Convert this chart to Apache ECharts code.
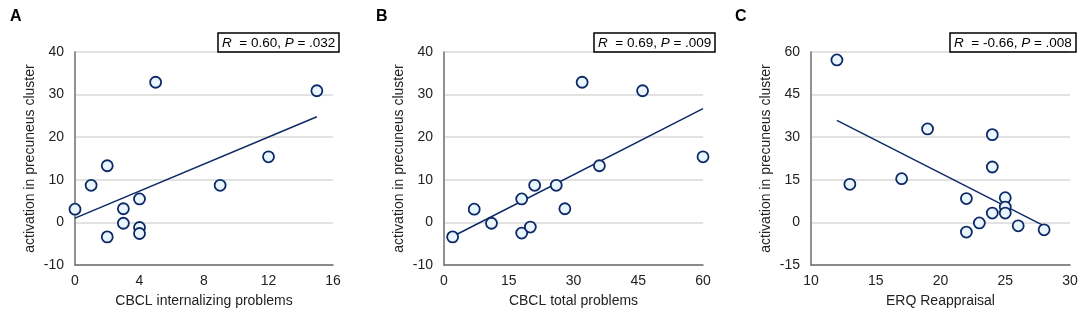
<!DOCTYPE html>
<html>
<head>
<meta charset="utf-8">
<script src="https://cdn.jsdelivr.net/npm/echarts@6/dist/echarts.min.js"></script>
<style>
  html, body { margin: 0; padding: 0; background: #fff; }
  #chart { width: 1084px; height: 313px; }
</style>
</head>
<body>
<div id="chart"></div>
<script>
// panel A: CBCL internalizing problems
const internalX = [0, 1, 2, 2, 3, 3, 4, 4, 4, 5, 9, 12, 15];
const internalY = [3.1, 8.7, 13.3, -3.4, 3.2, -0.2, 5.5, -1.2, -2.6, 32.9, 8.7, 15.4, 30.9];
const internalFitX = [0, 15];
const internalFitY = [1.0, 24.8];

// panel B: CBCL total problems
const totalX = [2, 7, 11, 18, 18, 20, 21, 26, 28, 32, 36, 46, 60];
const totalY = [-3.4, 3.1, -0.2, 5.5, -2.5, -1.1, 8.7, 8.7, 3.2, 32.9, 13.3, 30.9, 15.4];
const totalFitX = [2, 60];
const totalFitY = [-3.3, 26.7];

// panel C: ERQ Reappraisal
const erqX = [12, 13, 17, 19, 22, 22, 23, 24, 24, 24, 25, 25, 25, 26, 28];
const erqY = [57.2, 13.4, 15.4, 32.9, 8.4, -3.4, -0.2, 30.9, 19.5, 3.3, 8.7, 5.4, 3.3, -1.2, -2.6];
const erqFitX = [12, 28];
const erqFitY = [35.9, -1.2];

const panelLetters = ['A', 'B', 'C'];
const xNames = ['CBCL internalizing problems', 'CBCL total problems', 'ERQ Reappraisal'];
const yName = 'activation in precuneus cluster';
const stats = ['{i|R}  = 0.60, {i|P} = .032', '{i|R}  = 0.69, {i|P} = .009', '{i|R}  = -0.66, {i|P} = .008'];
const xMin = [0, 0, 10], xMax = [16, 60, 30], xStep = [4, 15, 5];
const yMin = [-10, -10, -15], yMax = [40, 40, 60], yStep = [10, 10, 15];

const navy = '#0d2a66';
const font = 'Liberation Sans, Arial, Helvetica, sans-serif';

let grids = [
    {left: 75, width: 258, top: 52, height: 213},
    {left: 444, width: 259, top: 52, height: 213},
    {left: 811, width: 259, top: 52, height: 213}
];

let titles = [];
let boxes = [[218, 33], [594, 33], [950, 33]];
let letterX = [5, 371, 730];
for (let i = 0; i < 3; i++) {
    titles.push({
        text: panelLetters[i], left: letterX[i], top: 4,
        textStyle: {fontFamily: font, fontSize: 16, fontWeight: 'bold', color: '#000'}
    });
    titles.push({
        text: stats[i], left: boxes[i][0], top: boxes[i][1],
        padding: [3, 4, 2, 4], borderColor: '#000', borderWidth: 1.5,
        textStyle: {
            fontFamily: font, fontSize: 13.5, fontWeight: 'normal', color: '#000',
            rich: {i: {fontStyle: 'italic', fontFamily: font, fontSize: 13.5}}
        }
    });
}

let xAxes = [], yAxes = [], series = [];
let pts = [[internalX, internalY], [totalX, totalY], [erqX, erqY]];
let fits = [[internalFitX, internalFitY], [totalFitX, totalFitY], [erqFitX, erqFitY]];
for (let i = 0; i < 3; i++) {
    xAxes.push({
        gridIndex: i, type: 'value', min: xMin[i], max: xMax[i], interval: xStep[i],
        name: xNames[i], nameLocation: 'middle', nameGap: 29,
        nameTextStyle: {fontFamily: font, fontSize: 14, color: '#222'},
        axisLine: {show: true, onZero: false, lineStyle: {color: '#6e6e6e', width: 1.5}},
        axisTick: {show: false},
        axisLabel: {fontFamily: font, fontSize: 14, color: '#222', margin: 9},
        splitLine: {show: false}
    });
    yAxes.push({
        gridIndex: i, type: 'value', min: yMin[i], max: yMax[i], interval: yStep[i],
        name: yName, nameLocation: 'middle', nameGap: 38,
        nameTextStyle: {fontFamily: font, fontSize: 14, color: '#222'},
        axisLine: {show: true, onZero: false, lineStyle: {color: '#6e6e6e', width: 1.5}},
        axisTick: {show: false},
        axisLabel: {fontFamily: font, fontSize: 14, color: '#222', margin: 11},
        splitLine: {show: true, lineStyle: {color: '#d9d9d9', width: 1.5}}
    });
    series.push({
        type: 'line', xAxisIndex: i, yAxisIndex: i,
        data: fits[i][0].map((x, k) => [x, fits[i][1][k]]),
        symbol: 'none', lineStyle: {color: navy, width: 1.5}, z: 2, silent: true
    });
    series.push({
        type: 'scatter', xAxisIndex: i, yAxisIndex: i,
        data: pts[i][0].map((x, k) => [x, pts[i][1][k]]),
        symbolSize: 11,
        itemStyle: {color: '#eaf6fd', borderColor: navy, borderWidth: 1.8, opacity: 1},
        z: 3
    });
}

let myChart = echarts.init(document.getElementById('chart'));
myChart.setOption({
    animation: false,
    title: titles,
    grid: grids,
    xAxis: xAxes,
    yAxis: yAxes,
    series: series
});
</script>
</body>
</html>
